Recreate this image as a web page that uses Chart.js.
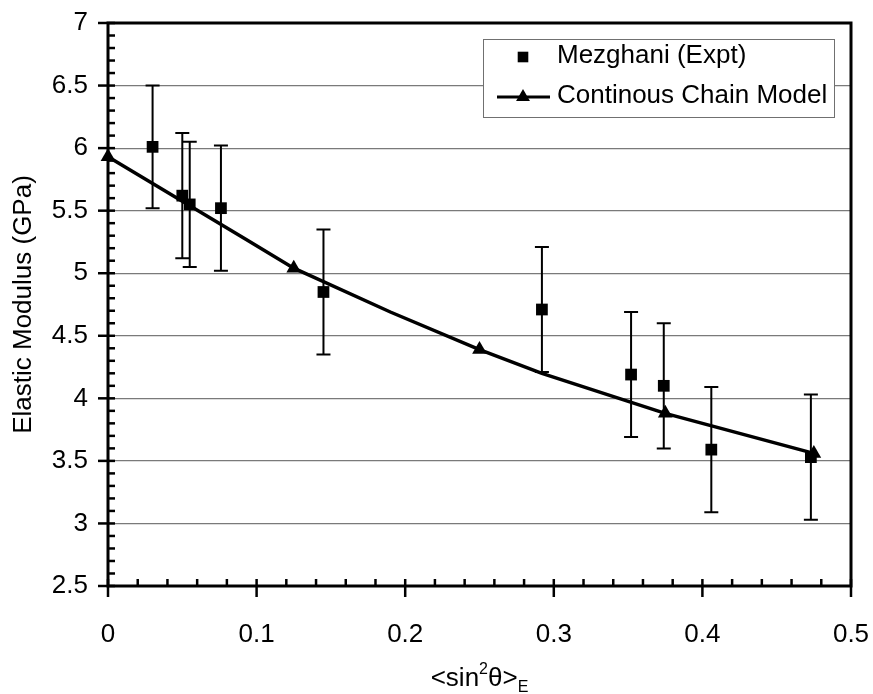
<!DOCTYPE html>
<html>
<head>
<meta charset="utf-8">
<script src="https://cdn.jsdelivr.net/npm/chart.js@4/dist/chart.umd.min.js"></script>
<style>
  html, body { margin: 0; padding: 0; background: #ffffff; }
  #wrap { width: 873px; height: 694px; }
</style>
</head>
<body>
<div id="wrap"><canvas id="chart" width="873" height="694"></canvas></div>
<script>
// Measured elastic modulus (GPa) against orientation parameter <sin^2 theta>_E
const expX   = [0.030, 0.050, 0.055, 0.076, 0.145, 0.292, 0.352, 0.374, 0.406, 0.473];
const expY   = [6.01, 5.62, 5.55, 5.52, 4.85, 4.71, 4.19, 4.10, 3.59, 3.53];
const expErr = [0.49, 0.50, 0.50, 0.50, 0.50, 0.50, 0.50, 0.50, 0.50, 0.50];

// Continuous chain model prediction
const modelX = [0, 0.093, 0.125, 0.19, 0.25, 0.292, 0.375, 0.475];
const modelY = [5.93, 5.27, 5.04, 4.69, 4.39, 4.20, 3.88, 3.56];
// model points that carry a triangle marker
const modelMarkedX = [0, 0.125, 0.25, 0.375, 0.475];

// axis ticks
const xTicks = [0, 0.1, 0.2, 0.3, 0.4, 0.5];
const yTicks = [2.5, 3, 3.5, 4, 4.5, 5, 5.5, 6, 6.5, 7];

const seriesNames = ['Mezghani (Expt)', 'Continous Chain Model'];
const yTitle = 'Elastic Modulus (GPa)';

const FONT = "'Liberation Sans', Arial, sans-serif";
const FS = 26;

const expData = expX.map((x, i) => ({ x: x, y: expY[i], err: expErr[i] }));
const modelData = modelX.map((x, i) => ({ x: x, y: modelY[i] }));

function drawMarker(ctx, style, x, y, r) {
  ctx.save();
  ctx.fillStyle = '#000';
  ctx.beginPath();
  if (style === 'rect') {
    const s = Math.SQRT1_2 * r;
    ctx.rect(x - s, y - s, 2 * s, 2 * s);
  } else {
    let a = 0;
    ctx.moveTo(x + Math.sin(a) * r, y - Math.cos(a) * r);
    a += 2 * Math.PI / 3;
    ctx.lineTo(x + Math.sin(a) * r, y - Math.cos(a) * r);
    a += 2 * Math.PI / 3;
    ctx.lineTo(x + Math.sin(a) * r, y - Math.cos(a) * r);
    ctx.closePath();
  }
  ctx.fill();
  ctx.restore();
}

// vertical error bars with caps
const errorBars = {
  id: 'errorBars',
  beforeDatasetsDraw(chart) {
    const ctx = chart.ctx;
    const xs = chart.scales.x, ys = chart.scales.y;
    ctx.save();
    ctx.strokeStyle = '#000';
    ctx.lineWidth = 2;
    expData.forEach(d => {
      const px = xs.getPixelForValue(d.x);
      const top = ys.getPixelForValue(d.y + d.err);
      const bot = ys.getPixelForValue(d.y - d.err);
      ctx.beginPath();
      ctx.moveTo(px, top); ctx.lineTo(px, bot);
      ctx.moveTo(px - 7, top); ctx.lineTo(px + 7, top);
      ctx.moveTo(px - 7, bot); ctx.lineTo(px + 7, bot);
      ctx.stroke();
    });
    ctx.restore();
  }
};

// legend box inside the plot, axis frame, tick marks and axis titles
const decorations = {
  id: 'decorations',
  afterDatasetsDraw(chart) {
    const ctx = chart.ctx;
    ctx.save();
    ctx.fillStyle = '#fff';
    ctx.fillRect(483.5, 39.5, 351, 78);
    ctx.strokeStyle = '#707070';
    ctx.lineWidth = 1;
    ctx.strokeRect(483.5, 39.5, 351, 78);
    drawMarker(ctx, 'rect', 523, 57, 7.5);
    ctx.strokeStyle = '#000';
    ctx.lineWidth = 3;
    ctx.beginPath(); ctx.moveTo(497, 97); ctx.lineTo(550, 97); ctx.stroke();
    drawMarker(ctx, 'triangle', 523, 97, 8);
    ctx.fillStyle = '#000';
    ctx.font = FS + 'px ' + FONT;
    ctx.textAlign = 'left';
    ctx.textBaseline = 'middle';
    ctx.fillText(seriesNames[0], 557, 56);
    ctx.fillText(seriesNames[1], 557, 96);
    ctx.restore();
  },
  afterDraw(chart) {
    const ctx = chart.ctx;
    const a = chart.chartArea;
    const xs = chart.scales.x, ys = chart.scales.y;
    ctx.save();
    ctx.strokeStyle = '#000';
    ctx.lineCap = 'butt';
    // y ticks every 0.1
    ctx.lineWidth = 2.5;
    for (let k = 25; k <= 70; k++) {
      const p = ys.getPixelForValue(k / 10);
      ctx.beginPath();
      if (k % 5 === 0) { ctx.moveTo(a.left - 10, p); ctx.lineTo(a.left + 7, p); }
      else { ctx.moveTo(a.left, p); ctx.lineTo(a.left + 7, p); }
      ctx.stroke();
    }
    // x ticks every 0.02
    for (let k = 0; k <= 25; k++) {
      const p = xs.getPixelForValue(k / 50);
      ctx.beginPath();
      if (k % 5 === 0) { ctx.moveTo(p, a.bottom - 7); ctx.lineTo(p, a.bottom + 11); }
      else { ctx.moveTo(p, a.bottom - 7); ctx.lineTo(p, a.bottom); }
      ctx.stroke();
    }
    // frame
    ctx.lineWidth = 3;
    ctx.strokeRect(a.left, a.top, a.right - a.left, a.bottom - a.top);

    // y axis title
    ctx.fillStyle = '#000';
    ctx.font = FS + 'px ' + FONT;
    ctx.save();
    ctx.translate(24, (a.top + a.bottom) / 2);
    ctx.rotate(-Math.PI / 2);
    ctx.textAlign = 'center';
    ctx.textBaseline = 'middle';
    ctx.fillText(yTitle, 0, 0);
    ctx.restore();

    // x axis title: <sin^2 theta>_E
    const parts = [
      { t: '<sin', f: FS, dy: 0 },
      { t: '2', f: 16, dy: -12 },
      { t: '\u03B8>', f: FS, dy: 0 },
      { t: 'E', f: 16, dy: 6 }
    ];
    let total = 0;
    parts.forEach(p => { ctx.font = p.f + 'px ' + FONT; p.w = ctx.measureText(p.t).width; total += p.w; });
    let x = (a.left + a.right) / 2 - total / 2;
    const base = 686;
    ctx.textAlign = 'left';
    ctx.textBaseline = 'alphabetic';
    parts.forEach(p => {
      ctx.font = p.f + 'px ' + FONT;
      ctx.fillText(p.t, x, base + p.dy);
      x += p.w;
    });
    ctx.restore();
  }
};

new Chart(document.getElementById('chart'), {
  type: 'scatter',
  data: {
    datasets: [
      {
        label: seriesNames[1],
        data: modelData,
        showLine: true,
        borderColor: '#000',
        borderWidth: 3.5,
        backgroundColor: '#000',
        pointStyle: 'triangle',
        pointRadius: ctx => (ctx.raw && modelMarkedX.includes(ctx.raw.x)) ? 8.5 : 0,
        pointBorderWidth: 0,
        pointHoverRadius: 0,
        tension: 0,
        clip: false,
        order: 1
      },
      {
        label: seriesNames[0],
        data: expData,
        showLine: false,
        backgroundColor: '#000',
        borderColor: '#000',
        pointStyle: 'rect',
        pointRadius: 8.3,
        pointBorderWidth: 0,
        clip: false,
        order: 2
      }
    ]
  },
  options: {
    responsive: false,
    animation: false,
    events: [],
    layout: { padding: { left: 0, right: 22, top: 23, bottom: 0 } },
    plugins: {
      legend: { display: false },
      tooltip: { enabled: false }
    },
    scales: {
      x: {
        type: 'linear',
        min: 0, max: 0.5,
        afterBuildTicks: s => { s.ticks = xTicks.map(v => ({ value: v })); },
        afterFit: s => { s.height = 108; s.paddingLeft = 0; s.paddingRight = 0; },
        grid: { display: false, drawTicks: false },
        border: { display: false },
        ticks: {
          color: '#000',
          font: { family: FONT, size: FS },
          padding: 33,
          maxRotation: 0,
          callback: v => String(Math.round(v * 10) / 10)
        }
      },
      y: {
        type: 'linear',
        min: 2.5, max: 7,
        afterBuildTicks: s => { s.ticks = yTicks.map(v => ({ value: v })); },
        afterFit: s => { s.width = 108; s.paddingTop = 0; s.paddingBottom = 0; },
        grid: { color: '#7a7a7a', lineWidth: 1.2, drawTicks: false },
        border: { display: false },
        ticks: {
          color: '#000',
          font: { family: FONT, size: FS },
          padding: 20,
          callback: v => String(Math.round(v * 10) / 10)
        }
      }
    }
  },
  plugins: [errorBars, decorations]
});
</script>
</body>
</html>
